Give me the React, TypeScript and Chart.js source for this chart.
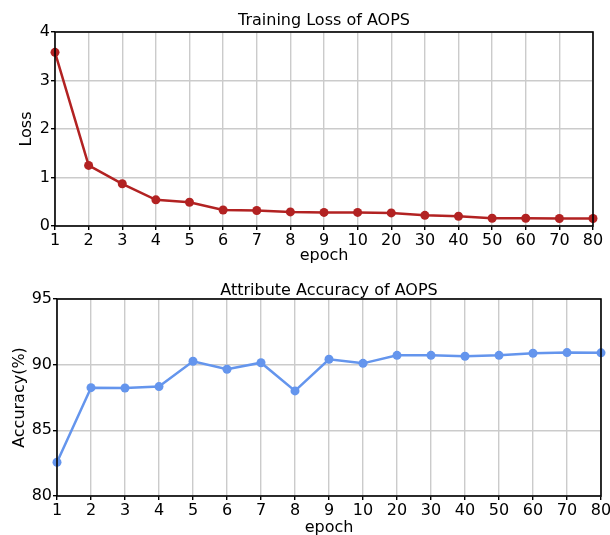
import React, { useEffect, useRef } from "react";
import { Chart, registerables } from "chart.js";

Chart.register(...registerables);

const epochs = ["1", "2", "3", "4", "5", "6", "7", "8", "9", "10", "20", "30", "40", "50", "60", "70", "80"];
const lossValues = [3.58, 1.25, 0.87, 0.54, 0.49, 0.33, 0.32, 0.29, 0.28, 0.28, 0.27, 0.22, 0.2, 0.16, 0.16, 0.155, 0.155];
const accuracyValues = [82.57, 88.25, 88.22, 88.33, 90.26, 89.65, 90.15, 88.0, 90.41, 90.1, 90.71, 90.71, 90.64, 90.71, 90.87, 90.92, 90.9];
const lossTicks = [0, 1, 2, 3, 4];
const accTicks = [80, 85, 90, 95];

const FONT = "'DejaVu Sans', sans-serif";
const W = 610;

type Area = { left: number; top: number; right: number; bottom: number };

function makeChart(
  canvas: HTMLCanvasElement,
  H: number,
  area: Area,
  title: string,
  yLabel: string,
  values: number[],
  color: string,
  yMin: number,
  yMax: number,
  yStep: number,
  yTickValues: number[],
  xTitleY: number,
  yTitleX: number,
  titleY: number
) {
  const tickFont = 16;
  const titleLH = 16 * 1.2;
  const frame = {
    id: "frame",
    afterDraw(chart: any) {
      const { ctx, chartArea: a } = chart;
      ctx.save();
      ctx.strokeStyle = "#000";
      ctx.lineWidth = 1.6;
      ctx.strokeRect(a.left, a.top, a.right - a.left, a.bottom - a.top);
      ctx.fillStyle = "#000";
      ctx.font = `16px ${FONT}`;
      ctx.textAlign = "center";
      ctx.textBaseline = "middle";
      ctx.fillText(title, (a.left + a.right) / 2, titleY);
      ctx.restore();
    },
  };
  return new Chart(canvas, {
    type: "line",
    data: {
      labels: epochs,
      datasets: [
        {
          data: values,
          borderColor: color,
          backgroundColor: color,
          borderWidth: 2.5,
          pointRadius: 4.5,
          pointHoverRadius: 4.5,
          pointBorderWidth: 0,
          tension: 0,
          fill: false,
          clip: 6,
        },
      ],
    },
    options: {
      animation: false,
      responsive: false,
      devicePixelRatio: 1,
      layout: { padding: { left: 0, top: area.top, right: W - area.right, bottom: 0 } },
      plugins: { legend: { display: false }, tooltip: { enabled: false }, title: { display: false } },
      scales: {
        x: {
          type: "category",
          offset: false,
          grid: { color: "#cbcbcb", lineWidth: 1.4, tickColor: "#000", tickLength: 4, drawTicks: true },
          border: { display: false },
          ticks: { color: "#000", font: { family: FONT, size: tickFont }, padding: 1, maxRotation: 0, autoSkip: false },
          title: {
            display: true,
            text: "epoch",
            color: "#000",
            font: { family: FONT, size: 16 },
            padding: { top: 0, bottom: H - xTitleY - titleLH / 2 },
          },
          afterFit(scale: any) {
            scale.height = H - area.bottom;
            scale.paddingLeft = 0;
            scale.paddingRight = 0;
          },
        },
        y: {
          min: yMin,
          max: yMax,
          grid: { color: "#cbcbcb", lineWidth: 1.4, tickColor: "#000", tickLength: 4 },
          border: { display: false },
          afterBuildTicks(scale: any) {
            scale.ticks = yTickValues.map((v) => ({ value: v }));
          },
          ticks: { color: "#000", font: { family: FONT, size: tickFont }, padding: 1, stepSize: yStep },
          title: {
            display: true,
            text: yLabel,
            color: "#000",
            font: { family: FONT, size: 16 },
            padding: { top: yTitleX - titleLH / 2, bottom: 0 },
          },
          afterFit(scale: any) {
            scale.width = area.left;
            scale.paddingTop = 0;
            scale.paddingBottom = 0;
          },
        },
      },
    },
    plugins: [frame],
  });
}

export default function App() {
  const topRef = useRef<HTMLCanvasElement>(null);
  const botRef = useRef<HTMLCanvasElement>(null);
  useEffect(() => {
    const c1 = makeChart(
      topRef.current!,
      270,
      { left: 55, top: 32, right: 593, bottom: 226 },
      "Training Loss of AOPS",
      "Loss",
      lossValues,
      "#b22222",
      0,
      4,
      1,
      lossTicks,
      256,
      27,
      21
    );
    const c2 = makeChart(
      botRef.current!,
      290,
      { left: 57, top: 29, right: 601, bottom: 226 },
      "Attribute Accuracy of AOPS",
      "Accuracy(%)",
      accuracyValues,
      "#6495ed",
      80,
      95,
      5,
      accTicks,
      258,
      20,
      20.5
    );
    return () => {
      c1.destroy();
      c2.destroy();
    };
  }, []);
  return (
    <div style={{ position: "fixed", left: 0, top: 0, width: 610, height: 535, overflow: "hidden", background: "#fff" }}>
      <canvas ref={topRef} width={610} height={270} style={{ position: "absolute", left: 0, top: 0, width: 610, height: 270 }} />
      <canvas ref={botRef} width={610} height={290} style={{ position: "absolute", left: 0, top: 270, width: 610, height: 290 }} />
    </div>
  );
}
